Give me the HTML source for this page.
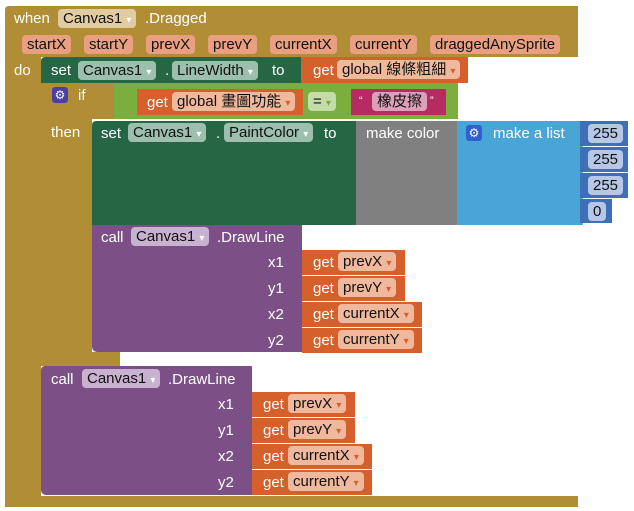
<!DOCTYPE html>
<html><head><meta charset="utf-8"><style>
html,body{margin:0;padding:0;background:#fff;width:634px;height:511px;overflow:hidden}
body{position:relative;font-family:"Liberation Sans","Noto Sans CJK TC",sans-serif;font-size:15px}
.b{position:absolute}
.t{position:absolute;color:#fff;white-space:nowrap;line-height:17px}
.f{position:absolute;white-space:nowrap;line-height:19px;height:19px;padding:0 5px;border-radius:4px;color:#111;font-size:15px}
.gold{background:#b18e35}.dg{background:#266645}.or{background:#d5602c}.pu{background:#7c5087}
.fp{background:#e8a080}.fo{background:#f0b89c}.fg{background:#9dbfae}.fu{background:#c8b2cf}.fn{background:#b6c8e6}
</style></head><body>
<div class="b gold" style="left:5px;top:6px;width:573px;height:51px;border-radius:4px 0 0 0"></div>
<div class="b gold" style="left:5px;top:6px;width:36px;height:501px;border-radius:4px 0 0 4px"></div>
<div class="b gold" style="left:5px;top:496px;width:573px;height:11px"></div>
<div class="t" style="left:14px;top:10px">when</div>
<div class="f" style="left:58px;top:9px;background:#e0cca0">Canvas1 <span style="font-size:10px;color:#fff">▾</span></div>
<div class="t" style="left:145px;top:10px">.Dragged</div>
<div class="f fp" style="left:22px;top:35px">startX</div>
<div class="f fp" style="left:84px;top:35px">startY</div>
<div class="f fp" style="left:146px;top:35px">prevX</div>
<div class="f fp" style="left:208px;top:35px">prevY</div>
<div class="f fp" style="left:270px;top:35px">currentX</div>
<div class="f fp" style="left:350px;top:35px">currentY</div>
<div class="f fp" style="left:430px;top:35px">draggedAnySprite</div>
<div class="t" style="left:14px;top:62px">do</div>

<div class="b dg" style="left:41px;top:57px;width:262px;height:26px;border-radius:4px 0 0 0"></div>
<div class="t" style="left:51px;top:62px">set</div>
<div class="f fg" style="left:78px;top:61px">Canvas1 <span style="font-size:10px;color:#fff">▾</span></div>
<div class="t" style="left:165px;top:62px">.</div>
<div class="f fg" style="left:172px;top:61px">LineWidth <span style="font-size:10px;color:#fff">▾</span></div>
<div class="t" style="left:272px;top:62px">to</div>
<div class="b or" style="left:301px;top:57px;width:167px;height:26px"></div>
<div class="t" style="left:313px;top:62px">get</div>
<div class="f fo" style="left:337px;top:60px">global 線條粗細 <span style="font-size:10px;color:#d5602c">▾</span></div>

<div class="b gold" style="left:41px;top:83px;width:79px;height:36px"></div>
<div class="b gold" style="left:41px;top:83px;width:51px;height:283px"></div>
<div class="b gold" style="left:41px;top:352px;width:79px;height:14px"></div>
<div class="b" style="left:52px;top:87px;width:16px;height:16px;background:#4a3fa8;border-radius:3px;color:#fff;font-size:12px;line-height:16px;text-align:center">⚙</div>
<div class="t" style="left:78px;top:87px">if</div>
<div class="t" style="left:51px;top:124px">then</div>
<div class="b" style="left:114px;top:83px;width:344px;height:36px;background:#7aae3d"></div>
<div class="b or" style="left:137px;top:89px;width:166px;height:26px"></div>
<div class="t" style="left:147px;top:94px">get</div>
<div class="f fo" style="left:172px;top:92px">global 畫圖功能 <span style="font-size:10px;color:#d5602c">▾</span></div>
<div class="f" style="left:308px;top:92px;background:#c4dca8">= <span style="font-size:10px;color:#7aae3d">▾</span></div>
<div class="b" style="left:351px;top:89px;width:95px;height:26px;background:#b52b62"></div>
<div class="t" style="left:359px;top:93px;font-size:11px">“</div>
<div class="f" style="left:372px;top:92px;background:#dda0b8">橡皮擦</div>
<div class="t" style="left:430px;top:93px;font-size:11px">”</div>

<div class="b dg" style="left:92px;top:121px;width:266px;height:104px;border-radius:4px 0 0 0"></div>
<div class="t" style="left:101px;top:125px">set</div>
<div class="f fg" style="left:128px;top:123px">Canvas1 <span style="font-size:10px;color:#fff">▾</span></div>
<div class="t" style="left:216px;top:125px">.</div>
<div class="f fg" style="left:224px;top:123px">PaintColor <span style="font-size:10px;color:#fff">▾</span></div>
<div class="t" style="left:324px;top:125px">to</div>
<div class="b" style="left:356px;top:121px;width:101px;height:104px;background:#808080"></div>
<div class="t" style="left:366px;top:125px">make color</div>
<div class="b" style="left:457px;top:121px;width:126px;height:104px;background:#49a5d5"></div>
<div class="b" style="left:466px;top:125px;width:16px;height:16px;background:#2f5fd0;border-radius:3px;color:#fff;font-size:12px;line-height:16px;text-align:center">⚙</div>
<div class="t" style="left:493px;top:125px">make a list</div>
<div class="b" style="left:580px;top:121px;width:48px;height:25px;background:#3f6fb6"></div>
<div class="b" style="left:580px;top:147px;width:48px;height:25px;background:#3f6fb6"></div>
<div class="b" style="left:580px;top:173px;width:48px;height:25px;background:#3f6fb6"></div>
<div class="b" style="left:580px;top:199px;width:32px;height:24px;background:#3f6fb6"></div>
<div class="f fn" style="left:588px;top:124px">255</div>
<div class="f fn" style="left:588px;top:150px">255</div>
<div class="f fn" style="left:588px;top:176px">255</div>
<div class="f fn" style="left:588px;top:202px">0</div>

<div class="b pu" style="left:92px;top:225px;width:210px;height:127px;border-radius:0 0 0 5px"></div>
<div class="t" style="left:101px;top:229px">call</div>
<div class="f fu" style="left:131px;top:227px">Canvas1 <span style="font-size:10px;color:#fff">▾</span></div>
<div class="t" style="left:217px;top:229px">.DrawLine</div>
<div class="t" style="left:268px;top:254px">x1</div>
<div class="t" style="left:268px;top:280px">y1</div>
<div class="t" style="left:268px;top:306px">x2</div>
<div class="t" style="left:268px;top:332px">y2</div>
<div class="b or" style="left:302px;top:250px;width:103px;height:25px"></div>
<div class="b or" style="left:302px;top:276px;width:103px;height:25px"></div>
<div class="b or" style="left:302px;top:302px;width:120px;height:25px"></div>
<div class="b or" style="left:302px;top:328px;width:120px;height:25px"></div>
<div class="t" style="left:313px;top:254px">get</div><div class="f fo" style="left:338px;top:252px">prevX <span style="font-size:10px;color:#d5602c">▾</span></div>
<div class="t" style="left:313px;top:280px">get</div><div class="f fo" style="left:338px;top:278px">prevY <span style="font-size:10px;color:#d5602c">▾</span></div>
<div class="t" style="left:313px;top:306px">get</div><div class="f fo" style="left:338px;top:304px">currentX <span style="font-size:10px;color:#d5602c">▾</span></div>
<div class="t" style="left:313px;top:332px">get</div><div class="f fo" style="left:338px;top:330px">currentY <span style="font-size:10px;color:#d5602c">▾</span></div>

<div class="b pu" style="left:41px;top:366px;width:211px;height:129px;border-radius:4px 0 0 5px"></div>
<div class="t" style="left:51px;top:371px">call</div>
<div class="f fu" style="left:82px;top:369px">Canvas1 <span style="font-size:10px;color:#fff">▾</span></div>
<div class="t" style="left:168px;top:371px">.DrawLine</div>
<div class="t" style="left:218px;top:396px">x1</div>
<div class="t" style="left:218px;top:422px">y1</div>
<div class="t" style="left:218px;top:448px">x2</div>
<div class="t" style="left:218px;top:474px">y2</div>
<div class="b or" style="left:252px;top:392px;width:103px;height:25px"></div>
<div class="b or" style="left:252px;top:418px;width:103px;height:25px"></div>
<div class="b or" style="left:252px;top:444px;width:120px;height:25px"></div>
<div class="b or" style="left:252px;top:470px;width:120px;height:25px"></div>
<div class="t" style="left:263px;top:396px">get</div><div class="f fo" style="left:288px;top:394px">prevX <span style="font-size:10px;color:#d5602c">▾</span></div>
<div class="t" style="left:263px;top:422px">get</div><div class="f fo" style="left:288px;top:420px">prevY <span style="font-size:10px;color:#d5602c">▾</span></div>
<div class="t" style="left:263px;top:448px">get</div><div class="f fo" style="left:288px;top:446px">currentX <span style="font-size:10px;color:#d5602c">▾</span></div>
<div class="t" style="left:263px;top:474px">get</div><div class="f fo" style="left:288px;top:472px">currentY <span style="font-size:10px;color:#d5602c">▾</span></div>
</body></html>
